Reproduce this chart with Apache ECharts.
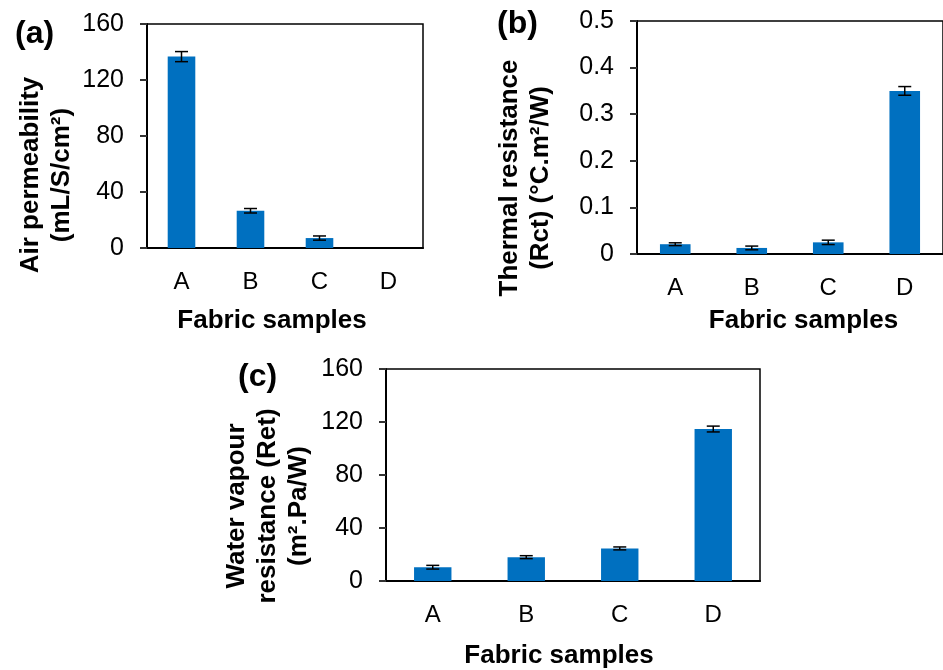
<!DOCTYPE html>
<html>
<head>
<meta charset="utf-8">
<script src="https://cdn.jsdelivr.net/npm/echarts@6/dist/echarts.min.js"></script>
<style>
  html, body { margin: 0; padding: 0; background: #fff; }
  #chart { width: 943px; height: 670px; }
</style>
</head>
<body>
<div id="chart"></div>
<script>
// data
const categories = ['A', 'B', 'C', 'D'];
const airPerm = [136.7, 26.6, 7.1, 0];
const airPermErr = [3.6, 1.6, 1.5, 0];
const thermalRes = [0.021, 0.013, 0.025, 0.35];
const thermalResErr = [0.003, 0.004, 0.0047, 0.0093];
const waterVapour = [10.4, 18.0, 24.6, 114.7];
const waterVapourErr = [1.4, 1.1, 1.1, 2.2];

const FONT = "'Liberation Sans', Arial, sans-serif";
const barColor = '#0070C0';

const chart = echarts.init(document.getElementById('chart'));

// error bar drawn with custom series
const renderErr = (params, api) => {
  const x = api.value(0), y = api.value(1), e = api.value(2);
  if (!e) return;
  const hi = api.coord([x, y + e]);
  const lo = api.coord([x, y - e]);
  const half = 6.5;
  const style = { stroke: '#000', lineWidth: 1.5 };
  return {
    type: 'group',
    children: [
      { type: 'line', shape: { x1: hi[0], y1: hi[1], x2: lo[0], y2: lo[1] }, style },
      { type: 'line', shape: { x1: hi[0] - half, y1: hi[1], x2: hi[0] + half, y2: hi[1] }, style },
      { type: 'line', shape: { x1: lo[0] - half, y1: lo[1], x2: lo[0] + half, y2: lo[1] }, style }
    ]
  };
};

const xAxisFor = (idx, namePad, nameGap) => ({
  type: 'category',
  gridIndex: idx,
  data: categories,
  axisLine: { lineStyle: { color: '#000', width: 2 } },
  axisTick: { length: 7, lineStyle: { color: '#333', width: 2 } },
  axisLabel: { color: '#000', fontSize: 24, fontFamily: FONT, margin: 22 },
  name: 'Fabric samples',
  nameLocation: 'middle',
  nameGap: nameGap,
  nameTextStyle: { color: '#000', fontSize: 26, fontWeight: 'bold', fontFamily: FONT, padding: namePad }
});

const yAxisFor = (idx, max, interval, fmt) => ({
  type: 'value',
  gridIndex: idx,
  min: 0,
  max: max,
  interval: interval,
  splitLine: { show: false },
  axisLine: { show: true, lineStyle: { color: '#000', width: 2 } },
  axisTick: { show: true, length: 7, lineStyle: { color: '#333', width: 2 } },
  axisLabel: { color: '#000', fontSize: 25, fontFamily: FONT, margin: 23, formatter: fmt }
});

const barSeries = (idx, vals) => ({
  type: 'bar',
  xAxisIndex: idx,
  yAxisIndex: idx,
  data: vals,
  barWidth: '40%',
  itemStyle: { color: barColor },
  z: 2
});

const errSeries = (idx, vals, errs) => ({
  type: 'custom',
  xAxisIndex: idx,
  yAxisIndex: idx,
  data: vals.map((v, i) => [i, v, errs[i]]),
  encode: { x: 0, y: 1 },
  renderItem: renderErr,
  z: 5
});

const panelTitle = (text, left, top) => ({
  text: text, left: left, top: top, padding: 0,
  textStyle: { color: '#000', fontSize: 32, fontWeight: 'bold', fontFamily: FONT }
});

// rotated y-axis titles
const yTitle = (text, x, y) => ({
  type: 'text', x: x, y: y, rotation: Math.PI / 2,
  style: {
    text: text, fill: '#000', fontSize: 26, fontWeight: 'bold', fontFamily: FONT,
    align: 'center', verticalAlign: 'middle', lineHeight: 31
  }
});

const gridStyle = { show: true, borderColor: '#000', borderWidth: 1.5, containLabel: false };

chart.setOption({
  backgroundColor: '#fff',
  animation: false,
  title: [
    panelTitle('(a)', 15, 18),
    panelTitle('(b)', 497, 8),
    panelTitle('(c)', 238, 361)
  ],
  grid: [
    Object.assign({ left: 147, top: 24, width: 276, height: 224 }, gridStyle),
    Object.assign({ left: 637, top: 21, width: 309, height: 233 }, gridStyle),
    Object.assign({ left: 386, top: 369, width: 374, height: 216 }, gridStyle)
  ],
  xAxis: [
    xAxisFor(0, [0, 26, 0, 0], 60),
    xAxisFor(1, [0, 0, 0, 27], 54),
    xAxisFor(2, [0, 28, 0, 0], 62)
  ],
  yAxis: [
    yAxisFor(0, 160, 40),
    yAxisFor(1, 0.5, 0.1, v => (v === 0 ? '0' : v.toFixed(1))),
    yAxisFor(2, 160, 40)
  ],
  graphic: [
    yTitle('Air permeability\n(mL/S/cm²)', 46, 175),
    yTitle('Thermal resistance\n(Rct) (°C.m²/W)', 525, 178),
    yTitle('Water vapour\nresistance (Ret)\n(m².Pa/W)', 268, 506)
  ],
  series: [
    barSeries(0, airPerm),
    errSeries(0, airPerm, airPermErr),
    barSeries(1, thermalRes),
    errSeries(1, thermalRes, thermalResErr),
    barSeries(2, waterVapour),
    errSeries(2, waterVapour, waterVapourErr)
  ]
});
</script>
</body>
</html>
